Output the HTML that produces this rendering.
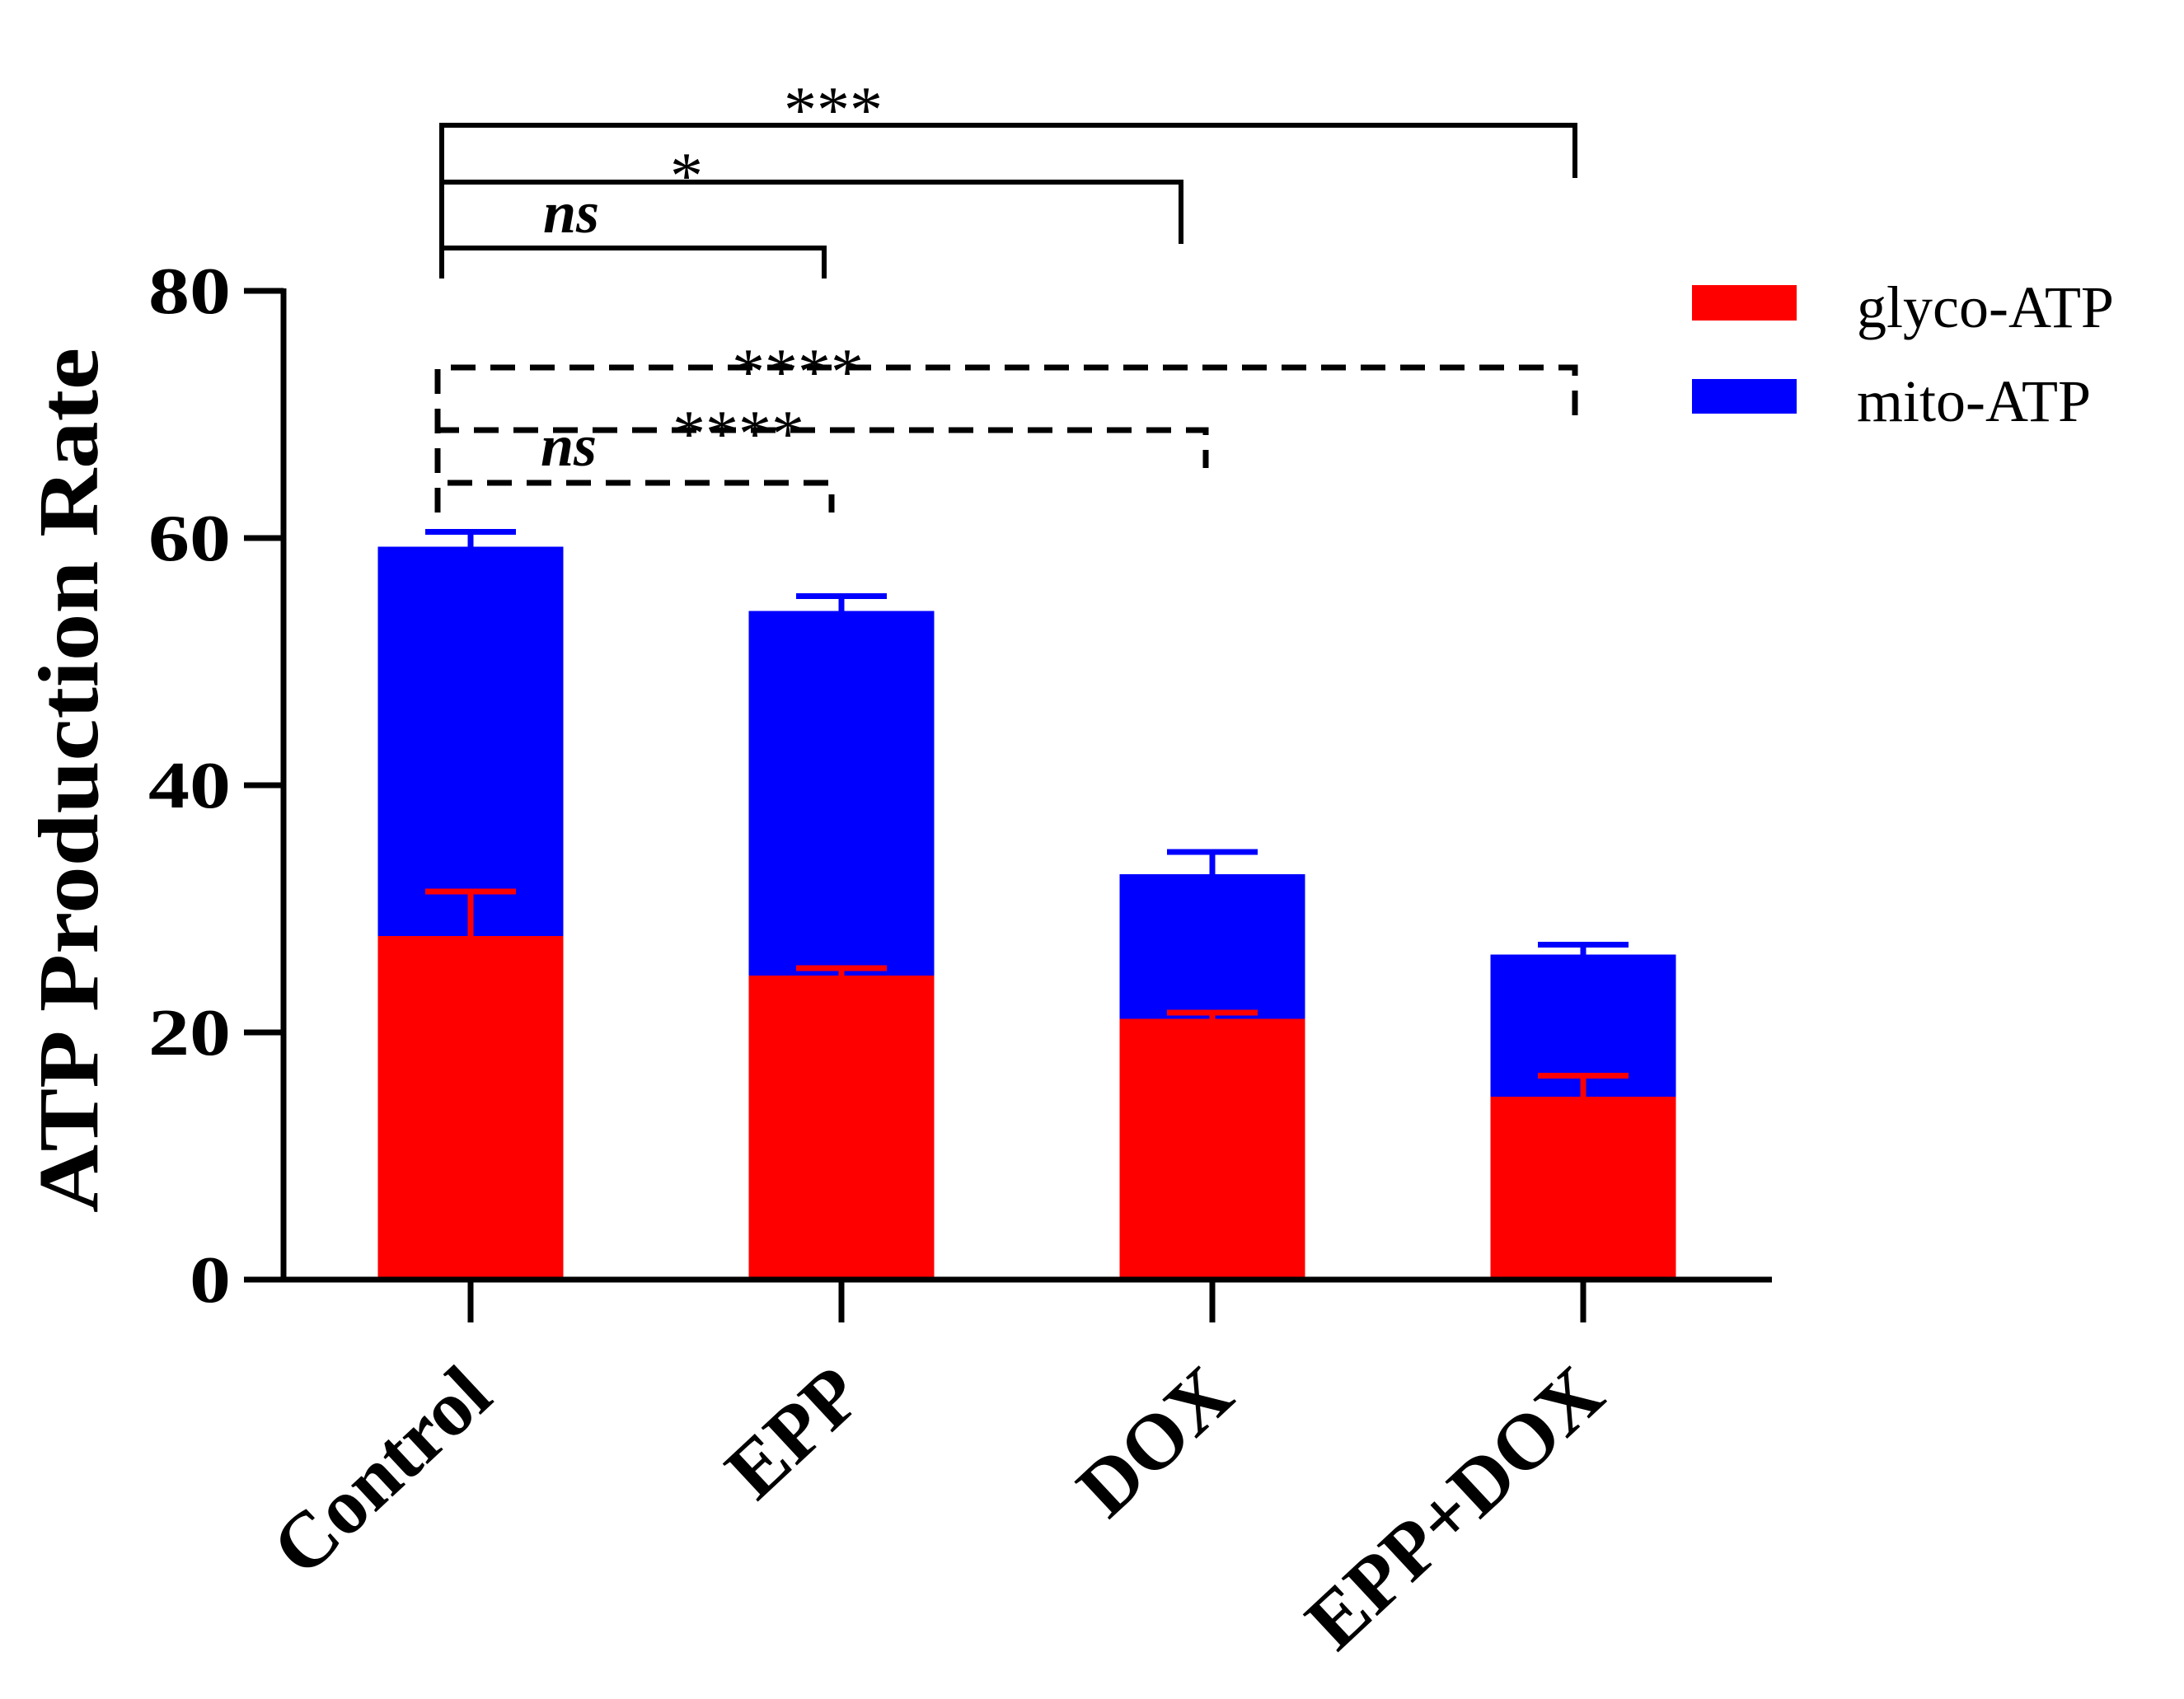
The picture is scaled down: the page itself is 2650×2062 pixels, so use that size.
<!DOCTYPE html>
<html><head><meta charset="utf-8"><style>
html,body{margin:0;padding:0;background:#fff;}
svg{display:block;}
text{font-family:"Liberation Serif",serif;}
</style></head>
<body>
<svg id="chart" width="2650" height="2062" viewBox="0 0 2650 2062" xmlns="http://www.w3.org/2000/svg">
<g id="marks"></g>
<text transform="translate(118,947) rotate(-90)" text-anchor="middle" font-size="104" font-weight="bold" textLength="1050" lengthAdjust="spacingAndGlyphs">ATP Production Rate</text>
<g>
<rect x="2053" y="346" width="127" height="43" fill="#ff0000"/>
<text x="2253" y="397" font-size="72">glyco-ATP</text>
<rect x="2053" y="460" width="127" height="42" fill="#0000ff"/>
<text x="2253" y="511" font-size="72">mito-ATP</text>
</g>
</svg>
<script>
const categories = ["Control","EPP","DOX","EPP+DOX"];
const glyco = [27.8, 24.6, 21.1, 14.8];
const glycoErr = [3.6, 0.6, 0.5, 1.7];
const total = [59.3, 54.1, 32.8, 26.3];
const totalErr = [1.2, 1.2, 1.8, 0.8];
const yTicks = [0, 20, 40, 60, 80];

const NS = "http://www.w3.org/2000/svg";
const g = document.getElementById('marks');
const y0 = 1553, yTop = 353, yMax = 80;
function yScale(v){ return y0 - (v / yMax) * (y0 - yTop); }
function xScale(i){ return 571 + i * 450; }
const barW = 225;
function mk(tag, attrs, parent){
  const e = document.createElementNS(NS, tag);
  for (const k in attrs) e.setAttribute(k, attrs[k]);
  (parent || g).appendChild(e);
  return e;
}
categories.forEach((c, i) => {
  const cx = xScale(i);
  const blue = mk('rect', {x: cx - barW/2, y: yScale(total[i]), width: barW, height: yScale(glyco[i]) - yScale(total[i]), fill: '#0000ff'});
  
  
  const red = mk('rect', {x: cx - barW/2, y: yScale(glyco[i]), width: barW, height: y0 - yScale(glyco[i]), fill: '#ff0000'});
  
  
  const eb1 = mk('path', {d: `M${cx},${yScale(total[i])} V${yScale(total[i]+totalErr[i])} M${cx-55},${yScale(total[i]+totalErr[i])} H${cx+55}`, stroke: '#0000ff', 'stroke-width': 7, fill: 'none'});
  
  
  const eb2 = mk('path', {d: `M${cx},${yScale(glyco[i])} V${yScale(glyco[i]+glycoErr[i])} M${cx-55},${yScale(glyco[i]+glycoErr[i])} H${cx+55}`, stroke: '#ff0000', 'stroke-width': 7, fill: 'none'});
  
  
  const t = mk('line', {x1: cx, y1: y0, x2: cx, y2: 1605, stroke: '#000', 'stroke-width': 7});
  
  
  const lbl = mk('text', {transform: `translate(${cx+30},${1700}) rotate(-43)`, 'text-anchor': 'end', 'font-size': 96, 'font-weight': 'bold'});
  lbl.textContent = c;
  
  
});
const ya = mk('line', {x1: 344, y1: y0 + 3, x2: 344, y2: yTop - 3, stroke: '#000', 'stroke-width': 7});


const xa = mk('line', {x1: 296, y1: y0, x2: 2150, y2: y0, stroke: '#000', 'stroke-width': 7});


yTicks.forEach(v => {
  const tk = mk('line', {x1: 296, y1: yScale(v), x2: 344, y2: yScale(v), stroke: '#000', 'stroke-width': 7});
  
  
  const tl = mk('text', {x: 280, y: yScale(v) + 27, 'text-anchor': 'end', 'font-size': 80, 'font-weight': 'bold', transform: `translate(${280*-0.25},0) scale(1.25,1)`});
  tl.textContent = v;
  
  
});
const solid = [[152, 1911, 216, "***", 1011, 160], [221, 1433, 296, "*", 833, 240], [301, 1000, 338, "ns", 693, 282]];
solid.forEach(b => {
  const p = mk('path', {d: `M536,338 V${b[0]} H${b[1]} V${b[2]}`, stroke: '#000', 'stroke-width': 6, fill: 'none'});
  
  
  const t = mk('text', {x: b[4], y: b[5], 'text-anchor': 'middle', 'font-size': b[3] === 'ns' ? 72 : 80, 'font-style': b[3] === 'ns' ? 'italic' : 'normal', 'font-weight': b[3] === 'ns' ? 'bold' : 'normal'});
  t.textContent = b[3];
  
  
});
const dashed = [[446, 1911, 510, "****", 968, 478], [522, 1463, 568, "****", 896, 553], [586, 1009, 622, "ns", 690, 565]];
dashed.forEach(b => {
  const p = mk('path', {d: `M531,622 V${b[0]} H${b[1]} V${b[2]}`, stroke: '#000', 'stroke-width': 7, fill: 'none', 'stroke-dasharray': '30 18'});
  
  
  const t = mk('text', {x: b[4], y: b[5], 'text-anchor': 'middle', 'font-size': b[3] === 'ns' ? 72 : 80, 'font-style': b[3] === 'ns' ? 'italic' : 'normal', 'font-weight': b[3] === 'ns' ? 'bold' : 'normal'});
  t.textContent = b[3];
  
  
});
</script>
</body></html>
